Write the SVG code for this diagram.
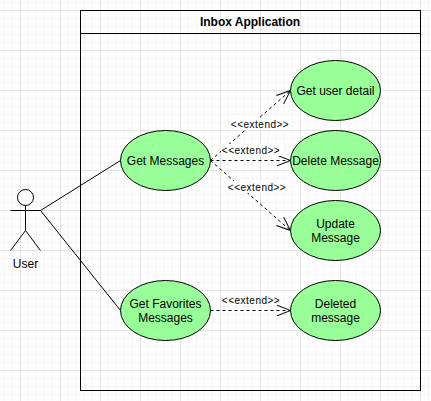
<svg xmlns="http://www.w3.org/2000/svg" width="431" height="401" viewBox="0 0 431 401">
<style>
text{font-family:"Liberation Sans",Arial,sans-serif;font-size:12px;fill:#000;text-anchor:middle}
.uc{fill:#99ff99;stroke:#000;stroke-width:1}
.edge{fill:none;stroke:#000;stroke-width:1}
.dash{stroke-dasharray:3 3}
.lbl{font-size:10px;letter-spacing:.5px}
.lblbg{fill:#fff}
</style>
<defs>
<pattern id="minor" width="8" height="8" patternUnits="userSpaceOnUse" x="20" y="10"><path d="M.5 0V8M0 .5H8" fill="none" stroke="#f4f4f4" stroke-width="1"/></pattern>
<pattern id="major" width="40" height="40" patternUnits="userSpaceOnUse" x="20" y="10"><path d="M.5 0V40M0 .5H40" fill="none" stroke="#e4e4e4" stroke-width="1"/></pattern>
<marker id="open" markerWidth="16" markerHeight="16" refX="14" refY="8" orient="auto" markerUnits="userSpaceOnUse"><path d="M0 2.500L14 8L0 13.500" fill="none" stroke="#000" stroke-width="1"/></marker>
</defs>
<rect width="431" height="401" fill="#fff"/>
<rect width="431" height="401" fill="url(#minor)"/>
<rect width="431" height="401" fill="url(#major)"/>
<g id="boundary">
<rect x="80.500" y="10.500" width="340" height="380" fill="none" stroke="#000"/>
<path d="M80.500 33.500H420.500" fill="none" stroke="#000"/>
<text x="250" y="26" font-weight="bold">Inbox Application</text>
</g>
<g id="connectors">
<path class="edge" d="M40.500 210.500L120.500 160.500"/>
<path class="edge" d="M40.500 210.500L120.500 310.500"/>
<path class="edge dash" marker-end="url(#open)" d="M210.500 160.500L290.500 90.500"/>
<path class="edge dash" marker-end="url(#open)" d="M210.500 160.500H290.500"/>
<path class="edge dash" marker-end="url(#open)" d="M210.500 160.500L290.500 230.500"/>
<path class="edge dash" marker-end="url(#open)" d="M210.500 310.500H290.500"/>
<rect class="lblbg" x="230" y="118" width="60" height="12"/>
<text class="lbl" x="260" y="128">&lt;&lt;extend&gt;&gt;</text>
<rect class="lblbg" x="221" y="144" width="60" height="12"/>
<text class="lbl" x="251" y="154">&lt;&lt;extend&gt;&gt;</text>
<rect class="lblbg" x="227" y="181" width="60" height="12"/>
<text class="lbl" x="257" y="191">&lt;&lt;extend&gt;&gt;</text>
<text class="lbl" x="251" y="304">&lt;&lt;extend&gt;&gt;</text>
</g>
<g id="user" fill="none" stroke="#000">
<circle cx="25.500" cy="197.500" r="8" fill="#fff"/>
<path d="M25.500 205.500V230.500M10.500 210.500H40.500M25.500 230.500L10.500 250.500M25.500 230.500L40.500 250.500"/>
<text x="25.500" y="268" stroke="none">User</text>
</g>
<g id="get-messages"><ellipse class="uc" cx="165.500" cy="160.500" rx="45" ry="30"/><text x="165.500" y="164.500">Get Messages</text></g>
<g id="get-favorites"><ellipse class="uc" cx="165.500" cy="310.500" rx="45" ry="30"/><text x="165.500" y="308">Get Favorites</text><text x="165.500" y="322">Messages</text></g>
<g id="get-user-detail"><ellipse class="uc" cx="335.500" cy="90.500" rx="45" ry="30"/><text x="335.500" y="94.500">Get user detail</text></g>
<g id="delete-message"><ellipse class="uc" cx="335.500" cy="160.500" rx="45" ry="30"/><text x="335.500" y="164.500">Delete Message</text></g>
<g id="update-message"><ellipse class="uc" cx="335.500" cy="230.500" rx="45" ry="30"/><text x="335.500" y="228">Update</text><text x="335.500" y="242">Message</text></g>
<g id="deleted-message"><ellipse class="uc" cx="335.500" cy="310.500" rx="45" ry="30"/><text x="335.500" y="308">Deleted</text><text x="335.500" y="322">message</text></g>
</svg>
